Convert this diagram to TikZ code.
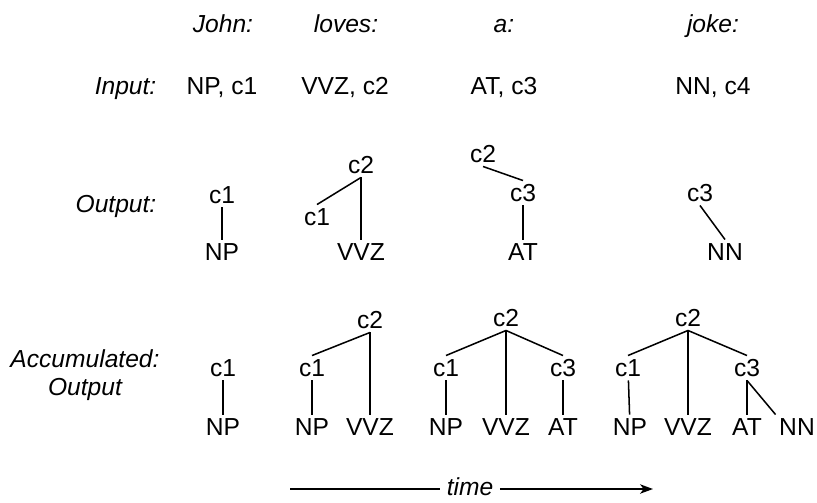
\documentclass[tikz,border=0pt]{standalone}
\usepackage{fontspec}
\setmainfont{Liberation Sans}
\usepackage{tikz}
\usetikzlibrary{positioning,arrows.meta}

\begin{document}
\begin{tikzpicture}[x=0.03cm,y=-0.03cm]
\tikzstyle{every node}+=[inner sep=2.5pt, font=\fontsize{21}{24}\selectfont, text height=15pt, text depth=0pt]
\tikzstyle{lbl}=[font=\fontsize{21}{24}\selectfont\itshape]
\tikzstyle{every path}+=[line width=1.3pt]
\useasboundingbox (0,0) rectangle (817,502);
% words
\node [lbl] (wjohn) at (223,24) {John:};
\node [lbl] (wloves) at (346,24) {loves:};
\node [lbl] (wa) at (504,24) {a:};
\node [lbl] (wjoke) at (713,24) {joke:};
% input row
\node [lbl, anchor=east] (input) at (160,86) {Input:};
\node (in1) at (222,86) {NP, c1};
\node (in2) at (345,86) {VVZ, c2};
\node (in3) at (504,86) {AT, c3};
\node (in4) at (713,86) {NN, c4};
% output row
\node [lbl, anchor=east] (output) at (160,204) {Output:};
\node (oa1) at (222,195) {c1};
\node (oa2) at (222,252) {NP};
\draw (oa1) -- (oa2);
\node (ob1) at (361,165) {c2};
\node (ob2) at (317,217) {c1};
\node (ob3) at (361,252) {VVZ};
\draw (ob1.south) -- (ob2.north);
\draw (ob1.south) -- (ob3.north);
\node (oc1) at (483,154) {c2};
\node (oc2) at (523,193) {c3};
\node (oc3) at (523,252) {AT};
\draw (oc1.south) -- (oc2.north);
\draw (oc2) -- (oc3);
\node (od1) at (700,193) {c3};
\node (od2) at (725,252) {NN};
\draw (od1.south) -- (od2.north);
% accumulated row
\node [lbl, align=center, text height=] (accum) at (85,373) {Accumulated:\\Output};
\node (aa1) at (223,368) {c1};
\node (aa2) at (223,427) {NP};
\draw (aa1) -- (aa2);
\node (ab1) at (370,320) {c2};
\node (ab2) at (312,368) {c1};
\node (ab3) at (312,427) {NP};
\node (ab4) at (370,427) {VVZ};
\draw (ab1.south) -- (ab2.north);
\draw (ab1.south) -- (ab4.north);
\draw (ab2) -- (ab3);
\node (ac1) at (506,318) {c2};
\node (ac2) at (446,368) {c1};
\node (ac3) at (563,368) {c3};
\node (ac4) at (446,427) {NP};
\node (ac5) at (506,427) {VVZ};
\node (ac6) at (563,427) {AT};
\draw (ac1.south) -- (ac2.north);
\draw (ac1.south) -- (ac3.north);
\draw (ac1.south) -- (ac5.north);
\draw (ac2) -- (ac4);
\draw (ac3) -- (ac6);
\node (ad1) at (688,318) {c2};
\node (ad2) at (628,368) {c1};
\node (ad3) at (747,368) {c3};
\node (ad4) at (630,427) {NP};
\node (ad5) at (688,427) {VVZ};
\node (ad6) at (747,427) {AT};
\node (ad7) at (797,427) {NN};
\draw (ad1.south) -- (ad2.north);
\draw (ad1.south) -- (ad3.north);
\draw (ad1.south) -- (ad5.north);
\draw (ad2) -- (ad4);
\draw (ad3) -- (ad6);
\draw (ad3.south) -- (ad7.north west);
% time arrow
\node [lbl, inner xsep=5pt, inner ysep=1pt] (time) at (470,487) {time};
\coordinate (tstart) at (290,489);
\coordinate (tend) at (653,489);
\draw (tstart) -- (tstart -| time.west);
\draw [-{Stealth[length=11pt,width=8pt,inset=3pt]}] (tend -| time.east) -- (tend);
\end{tikzpicture}
\end{document}
